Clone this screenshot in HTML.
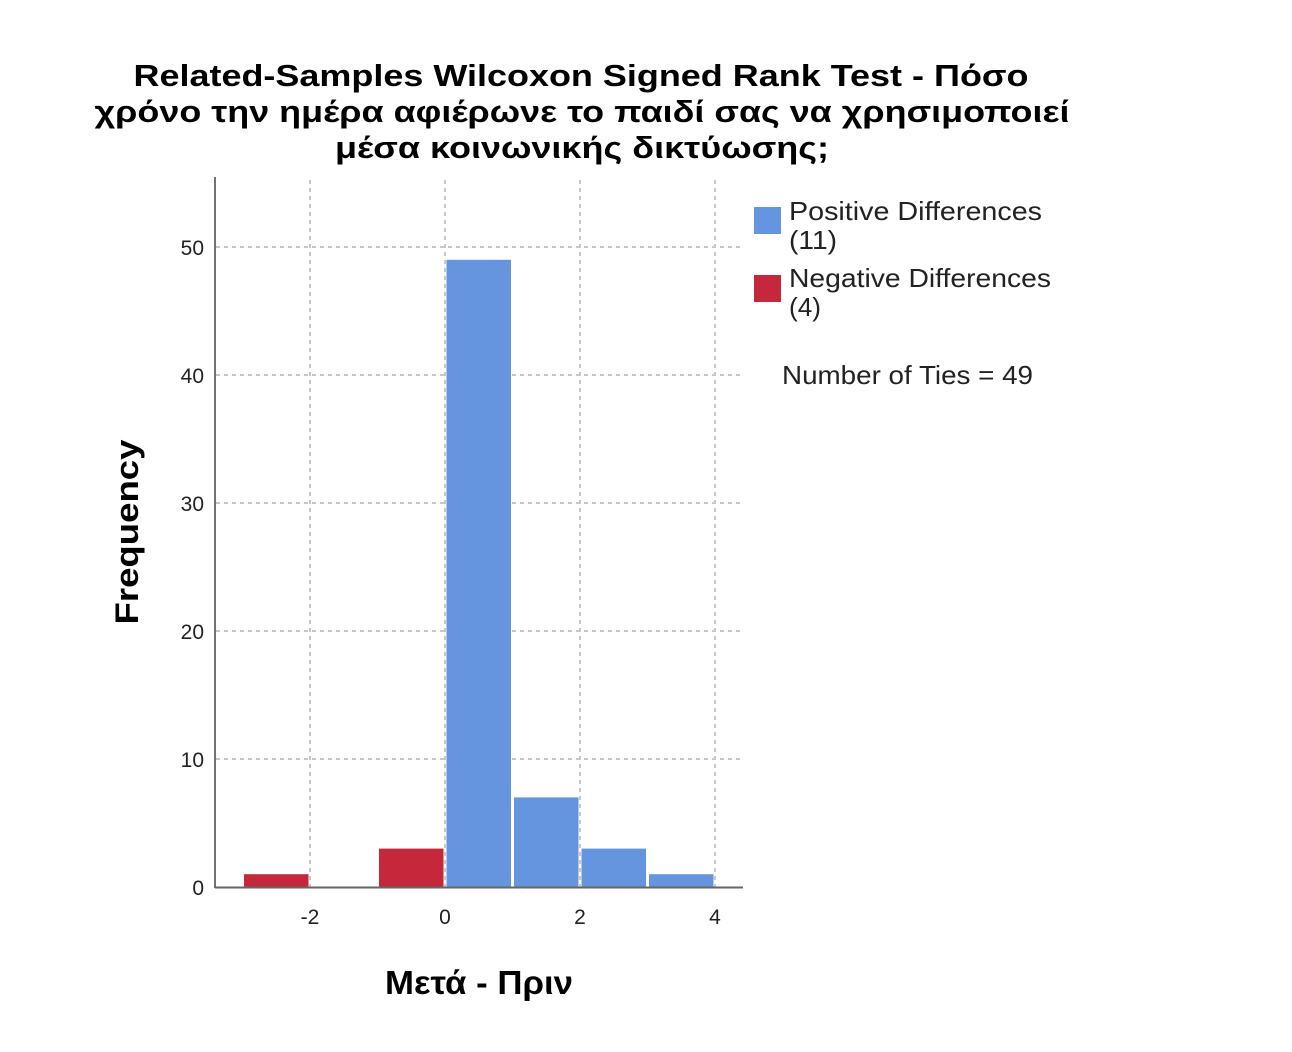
<!DOCTYPE html>
<html><head><meta charset="utf-8"><style>
html,body{margin:0;padding:0;background:#fff}
svg{display:block}
text{font-family:"Liberation Sans",sans-serif}
</style></head><body>
<svg id="chart" width="1292" height="1052" viewBox="0 0 1292 1052">
<g font-weight="bold" font-size="31" fill="#000" text-anchor="middle">
<text x="581" y="86" textLength="895" lengthAdjust="spacingAndGlyphs">Related-Samples Wilcoxon Signed Rank Test - Πόσο</text>
<text x="582" y="122" textLength="975" lengthAdjust="spacingAndGlyphs">χρόνο την ημέρα αφιέρωνε το παιδί σας να χρησιμοποιεί</text>
<text x="582" y="158" textLength="494" lengthAdjust="spacingAndGlyphs">μέσα κοινωνικής δικτύωσης;</text>
</g>
<g id="grid"></g>
<g id="bars"></g>
<g id="axes"></g>
<text x="138" y="532" transform="rotate(-90 138 532)" text-anchor="middle" font-size="32" font-weight="bold" textLength="185" lengthAdjust="spacingAndGlyphs">Frequency</text>
<text x="479" y="994" text-anchor="middle" font-size="33" font-weight="bold" textLength="188" lengthAdjust="spacingAndGlyphs">Μετά - Πριν</text>
<g font-size="26" fill="#222">
<rect x="754" y="207" width="27" height="27" fill="#6595df"/>
<text x="789" y="220" textLength="253" lengthAdjust="spacingAndGlyphs">Positive Differences</text>
<text x="789" y="249" textLength="48" lengthAdjust="spacingAndGlyphs">(11)</text>
<rect x="754" y="275" width="27" height="27" fill="#c5283b"/>
<text x="789" y="287" textLength="262" lengthAdjust="spacingAndGlyphs">Negative Differences</text>
<text x="789" y="316" textLength="32" lengthAdjust="spacingAndGlyphs">(4)</text>
<text x="782" y="384" textLength="251" lengthAdjust="spacingAndGlyphs">Number of Ties = 49</text>
</g>
</svg>
<script>
const binStarts=[-3,-2,-1,0,1,2,3];
const freqs=[1,0,3,49,7,3,1];
const signs=['neg','neg','neg','pos','pos','pos','pos'];
const xTicks=[-2,0,2,4];
const yTicks=[0,10,20,30,40,50];
const NS='http://www.w3.org/2000/svg';
const X=v=>445+v*67.5;
const Y=v=>887-v*12.8;
function mk(tag,attrs,parent){const e=document.createElementNS(NS,tag);for(const k in attrs)e.setAttribute(k,attrs[k]);parent.appendChild(e);return e;}
const grid=document.getElementById('grid'),bars=document.getElementById('bars'),axes=document.getElementById('axes');
yTicks.forEach(t=>{if(t===0)return;
 const l=mk('line',{x1:216,x2:743,y1:Y(t),y2:Y(t),stroke:'#c8c8c8','stroke-width':2,'stroke-dasharray':'4,4'},grid);
 
 
});
xTicks.forEach(t=>{
 const l=mk('line',{x1:X(t),x2:X(t),y1:180,y2:887,stroke:'#c8c8c8','stroke-width':2,'stroke-dasharray':'4,4'},grid);
 
 
});
binStarts.forEach((b,i)=>{if(freqs[i]<=0)return;
 const x0=X(b)+1.5,x1=X(b+1)-1.5;
 const r=mk('rect',{x:x0,y:Y(freqs[i]),width:x1-x0,height:Y(0)-Y(freqs[i]),fill:signs[i]==='pos'?'#6595df':'#c5283b'},bars);
 
 
});
mk('line',{x1:215,x2:215,y1:177,y2:888,stroke:'#444','stroke-width':1.5},axes);
mk('line',{x1:215,x2:743,y1:887.5,y2:887.5,stroke:'#666','stroke-width':2},axes);
yTicks.forEach(t=>{
 const tx=mk('text',{x:204,y:Y(t)+8,'text-anchor':'end','font-size':21,fill:'#222'},axes);tx.textContent=t;
 
 
});
xTicks.forEach(t=>{
 const tx=mk('text',{x:X(t),y:924,'text-anchor':'middle','font-size':21,fill:'#222'},axes);tx.textContent=t;
 
 
});
</script>
</body></html>
